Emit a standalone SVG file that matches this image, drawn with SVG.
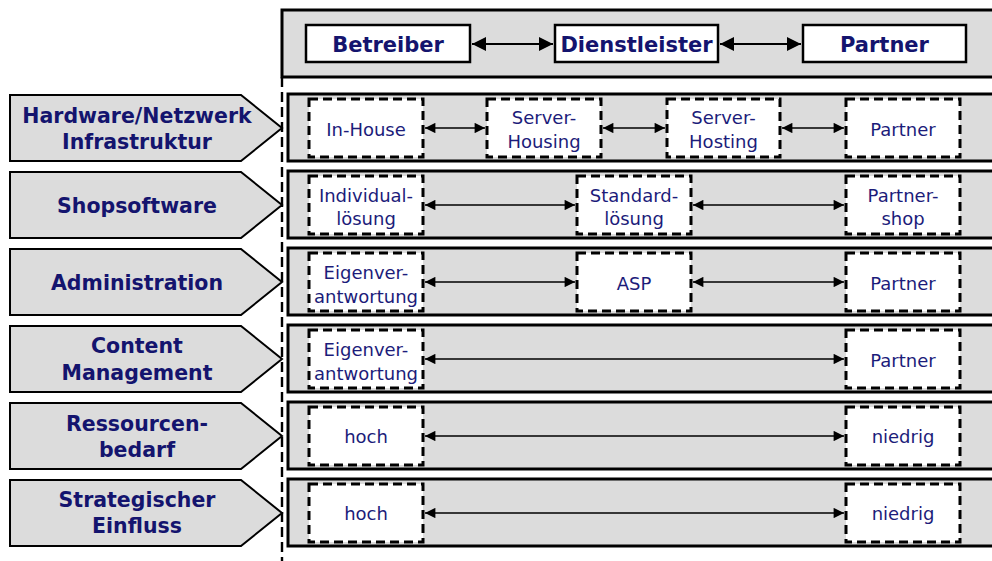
<svg xmlns="http://www.w3.org/2000/svg" width="992" height="561" viewBox="0 0 992 561">
  <defs>
    <style>
      .band { fill: #dcdcdc; stroke: #000; stroke-width: 3; }
      .tag { fill: #dcdcdc; stroke: #000; stroke-width: 2; stroke-linejoin: miter; }
      .opt { fill: #fff; stroke: #000; stroke-width: 3; stroke-dasharray: 9 5; }
      .role { fill: #fff; stroke: #000; stroke-width: 2.5; }
      .lbl { font-family: "DejaVu Sans", Verdana, sans-serif; font-weight: bold; font-size: 20.5px; fill: #14146e; text-anchor: middle; }
      .hd { font-family: "DejaVu Sans", Verdana, sans-serif; font-weight: bold; font-size: 21px; fill: #14146e; text-anchor: middle; }
      .txt { font-family: "DejaVu Sans", Verdana, sans-serif; font-size: 18px; fill: #1c1c7a; text-anchor: middle; }
      .ln { stroke: #000; stroke-width: 1.6; fill: none; marker-start: url(#tipS); marker-end: url(#tipE); }
      .lnH { stroke: #000; stroke-width: 2; fill: none; marker-start: url(#tipHS); marker-end: url(#tipHE); }
    </style>
    <marker id="tipE" viewBox="0 0 10 10" refX="10" refY="5" markerWidth="7" markerHeight="6.5" orient="auto" markerUnits="strokeWidth">
      <path d="M0,0 L10,5 L0,10 z" fill="#000"/>
    </marker>
    <marker id="tipS" viewBox="0 0 10 10" refX="0" refY="5" markerWidth="7" markerHeight="6.5" orient="auto" markerUnits="strokeWidth">
      <path d="M10,0 L0,5 L10,10 z" fill="#000"/>
    </marker>
    <marker id="tipHE" viewBox="0 0 10 10" refX="10" refY="5" markerWidth="7" markerHeight="7" orient="auto" markerUnits="strokeWidth">
      <path d="M0,0 L10,5 L0,10 z" fill="#000"/>
    </marker>
    <marker id="tipHS" viewBox="0 0 10 10" refX="0" refY="5" markerWidth="7" markerHeight="7" orient="auto" markerUnits="strokeWidth">
      <path d="M10,0 L0,5 L10,10 z" fill="#000"/>
    </marker>
  </defs>

  <rect width="992" height="561" fill="#fff"/>

  <!-- header band with the three roles -->
  <g id="header">
    <rect class="band" x="282" y="10" width="720" height="67"/>
    <g id="role-betreiber">
      <rect class="role" x="306" y="25" width="164" height="37"/>
      <text class="hd" x="388" y="52">Betreiber</text>
    </g>
    <g id="role-dienstleister">
      <rect class="role" x="555" y="25" width="163" height="37"/>
      <text class="hd" x="636.5" y="52">Dienstleister</text>
    </g>
    <g id="role-partner">
      <rect class="role" x="803" y="25" width="163" height="37"/>
      <text class="hd" x="884.5" y="52">Partner</text>
    </g>
  </g>

  <!-- divider between labels and bands -->
  <line x1="282" y1="77" x2="282" y2="561" stroke="#000" stroke-width="2.4" stroke-dasharray="10 5"/>

  <!-- row 1: Hardware/Netzwerk Infrastruktur -->
  <g id="row-hardware">
    <polygon class="tag" points="10,95 241,95 282,128 241,161 10,161"/>
    <text class="lbl" x="137" y="123">Hardware/Netzwerk</text>
    <text class="lbl" x="137" y="149">Infrastruktur</text>
    <rect class="band" x="288" y="94" width="714" height="67"/>
  </g>
  <g id="hw-inhouse">
    <rect class="opt" x="309" y="99" width="114" height="58"/>
    <text class="txt" x="366" y="136">In-House</text>
  </g>
  <g id="hw-housing">
    <rect class="opt" x="487" y="99" width="114" height="58"/>
    <text class="txt" x="544" y="124">Server-</text>
    <text class="txt" x="544" y="148">Housing</text>
  </g>
  <g id="hw-hosting">
    <rect class="opt" x="667" y="99" width="113" height="58"/>
    <text class="txt" x="723.5" y="124">Server-</text>
    <text class="txt" x="723.5" y="148">Hosting</text>
  </g>
  <g id="hw-partner">
    <rect class="opt" x="846" y="99" width="114" height="58"/>
    <text class="txt" x="903" y="136">Partner</text>
  </g>

  <!-- row 2: Shopsoftware -->
  <g id="row-shop">
    <polygon class="tag" points="10,172 241,172 282,205 241,238 10,238"/>
    <text class="lbl" x="137" y="213">Shopsoftware</text>
    <rect class="band" x="288" y="171" width="714" height="67"/>
  </g>
  <g id="shop-individual">
    <rect class="opt" x="309" y="176" width="114" height="58"/>
    <text class="txt" x="366" y="202">Individual-</text>
    <text class="txt" x="366" y="225">lösung</text>
  </g>
  <g id="shop-standard">
    <rect class="opt" x="577" y="176" width="114" height="58"/>
    <text class="txt" x="634" y="202">Standard-</text>
    <text class="txt" x="634" y="225">lösung</text>
  </g>
  <g id="shop-partner">
    <rect class="opt" x="846" y="176" width="114" height="58"/>
    <text class="txt" x="903" y="202">Partner-</text>
    <text class="txt" x="903" y="225">shop</text>
  </g>

  <!-- row 3: Administration -->
  <g id="row-admin">
    <polygon class="tag" points="10,249 241,249 282,282 241,315 10,315"/>
    <text class="lbl" x="137" y="290">Administration</text>
    <rect class="band" x="288" y="248" width="714" height="67"/>
  </g>
  <g id="admin-eigen">
    <rect class="opt" x="309" y="253" width="114" height="58"/>
    <text class="txt" x="366" y="279">Eigenver-</text>
    <text class="txt" x="366" y="303">antwortung</text>
  </g>
  <g id="admin-asp">
    <rect class="opt" x="577" y="253" width="114" height="58"/>
    <text class="txt" x="634" y="290">ASP</text>
  </g>
  <g id="admin-partner">
    <rect class="opt" x="846" y="253" width="114" height="58"/>
    <text class="txt" x="903" y="290">Partner</text>
  </g>

  <!-- row 4: Content Management -->
  <g id="row-content">
    <polygon class="tag" points="10,326 241,326 282,359 241,392 10,392"/>
    <text class="lbl" x="137" y="353">Content</text>
    <text class="lbl" x="137" y="380">Management</text>
    <rect class="band" x="288" y="325" width="714" height="67"/>
  </g>
  <g id="content-eigen">
    <rect class="opt" x="309" y="330" width="114" height="58"/>
    <text class="txt" x="366" y="356">Eigenver-</text>
    <text class="txt" x="366" y="380">antwortung</text>
  </g>
  <g id="content-partner">
    <rect class="opt" x="846" y="330" width="114" height="58"/>
    <text class="txt" x="903" y="367">Partner</text>
  </g>

  <!-- row 5: Ressourcenbedarf -->
  <g id="row-ressourcen">
    <polygon class="tag" points="10,403 241,403 282,436 241,469 10,469"/>
    <text class="lbl" x="137" y="431">Ressourcen-</text>
    <text class="lbl" x="137" y="457">bedarf</text>
    <rect class="band" x="288" y="402" width="714" height="67"/>
  </g>
  <g id="res-hoch">
    <rect class="opt" x="309" y="407" width="114" height="58"/>
    <text class="txt" x="366" y="443">hoch</text>
  </g>
  <g id="res-niedrig">
    <rect class="opt" x="846" y="407" width="114" height="58"/>
    <text class="txt" x="903" y="443">niedrig</text>
  </g>

  <!-- row 6: Strategischer Einfluss -->
  <g id="row-einfluss">
    <polygon class="tag" points="10,480 241,480 282,513 241,546 10,546"/>
    <text class="lbl" x="137" y="507">Strategischer</text>
    <text class="lbl" x="137" y="533">Einfluss</text>
    <rect class="band" x="288" y="479" width="714" height="67"/>
  </g>
  <g id="ein-hoch">
    <rect class="opt" x="309" y="484" width="114" height="58"/>
    <text class="txt" x="366" y="520">hoch</text>
  </g>
  <g id="ein-niedrig">
    <rect class="opt" x="846" y="484" width="114" height="58"/>
    <text class="txt" x="903" y="520">niedrig</text>
  </g>

  <!-- two-way connectors -->
  <g id="connectors">
    <line class="lnH" x1="472" y1="44" x2="553" y2="44"/>
    <line class="lnH" x1="720" y1="44" x2="801" y2="44"/>

    <line class="ln" x1="425" y1="128" x2="485" y2="128"/>
    <line class="ln" x1="603" y1="128" x2="665" y2="128"/>
    <line class="ln" x1="782" y1="128" x2="844" y2="128"/>

    <line class="ln" x1="425" y1="205" x2="575" y2="205"/>
    <line class="ln" x1="693" y1="205" x2="844" y2="205"/>

    <line class="ln" x1="425" y1="282" x2="575" y2="282"/>
    <line class="ln" x1="693" y1="282" x2="844" y2="282"/>

    <line class="ln" x1="425" y1="359" x2="844" y2="359"/>
    <line class="ln" x1="425" y1="436" x2="844" y2="436"/>
    <line class="ln" x1="425" y1="513" x2="844" y2="513"/>
  </g>
</svg>
